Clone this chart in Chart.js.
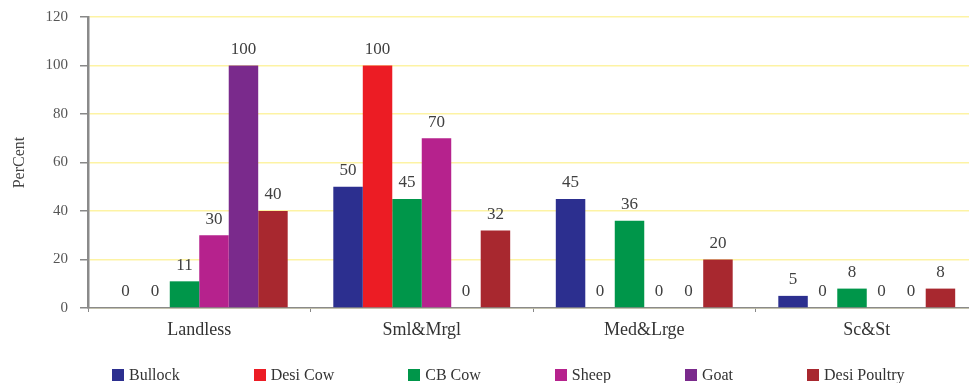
<!DOCTYPE html>
<html>
<head>
<meta charset="utf-8">
<script src="https://cdn.jsdelivr.net/npm/chart.js@4/dist/chart.umd.min.js"></script>
<style>
  html, body { margin: 0; padding: 0; background: #ffffff; overflow: hidden; }
  #wrap { position: absolute; left: 0; top: 0; width: 1020px; height: 383px; }
  #legend {
    position: absolute; left: 112px; top: 366px;
    display: flex; gap: 74px; align-items: center;
    font-family: "Liberation Serif", "DejaVu Serif", serif;
    font-size: 16px; color: #333; white-space: nowrap;
  }
  #legend .item { display: flex; align-items: center; }
  #legend .box { width: 12px; height: 12px; margin-right: 5px; }
</style>
</head>
<body>
<div id="wrap"><canvas id="c" width="1020" height="383"></canvas></div>
<div id="legend"></div>
<script>
// Land-holding groups along the x axis
const categories = ['Landless', 'Sml&Mrgl', 'Med&Lrge', 'Sc&St'];

// Share of households (per cent) owning each kind of livestock
const bullock     = [0, 50, 45, 5];
const desiCow     = [0, 100, 0, 0];
const cbCow       = [11, 45, 36, 8];
const sheep       = [30, 70, 0, 0];
const goat        = [100, 0, 0, 0];
const desiPoultry = [40, 32, 20, 8];

const yTicks = [0, 20, 40, 60, 80, 100, 120];

const seriesNames = ['Bullock', 'Desi Cow', 'CB Cow', 'Sheep', 'Goat', 'Desi Poultry'];
const seriesValues = [bullock, desiCow, cbCow, sheep, goat, desiPoultry];
const seriesColors = ['#2c2f8f', '#ec1c24', '#00964a', '#b6228d', '#7a2a8c', '#a8282f'];

const SERIF = '"Liberation Serif", "DejaVu Serif", serif';

// Writes each bar's value just above its top, zeros included
const valueLabels = {
  id: 'valueLabels',
  afterDatasetsDraw(chart) {
    const ctx = chart.ctx;
    ctx.save();
    ctx.font = '17px ' + SERIF;
    ctx.fillStyle = '#404040';
    ctx.textAlign = 'center';
    ctx.textBaseline = 'middle';
    chart.data.datasets.forEach((ds, i) => {
      const meta = chart.getDatasetMeta(i);
      meta.data.forEach((bar, j) => {
        ctx.fillText(String(ds.data[j]), bar.x, bar.y - 16);
      });
    });
    ctx.restore();
  }
};

const chart = new Chart(document.getElementById('c'), {
  type: 'bar',
  data: {
    labels: categories,
    datasets: seriesNames.map((name, i) => ({
      label: name,
      data: seriesValues[i],
      backgroundColor: seriesColors[i],
      borderWidth: 0,
      barPercentage: 1.0,
      categoryPercentage: 0.795
    }))
  },
  options: {
    responsive: false,
    animation: false,
    layout: { padding: { left: 0, right: 42, top: 17, bottom: 0 } },
    plugins: {
      legend: { display: false },
      tooltip: { enabled: false }
    },
    scales: {
      x: {
        afterFit(scale) { scale.height = 75; },
        grid: {
          display: true,
          drawOnChartArea: false,
          offset: true,
          tickLength: 4,
          tickColor: '#888'
        },
        border: { color: '#8a8a8a', width: 1.5 },
        ticks: {
          font: { family: SERIF, size: 18 },
          color: '#333',
          padding: 7
        }
      },
      y: {
        min: 0,
        max: 120,
        afterBuildTicks(scale) {
          scale.ticks = yTicks.map(v => ({ value: v }));
        },
        afterFit(scale) {
          scale.width = 88;
          scale.paddingTop = 0;
          scale.paddingBottom = 0;
        },
        grid: {
          color: '#fdf3a4',
          lineWidth: 1.5,
          tickLength: 8,
          tickColor: '#888'
        },
        border: { color: '#8a8a8a', width: 2.5 },
        ticks: {
          font: { family: SERIF, size: 15 },
          color: '#555',
          padding: 12
        },
        title: {
          display: true,
          text: 'PerCent',
          font: { family: SERIF, size: 16 },
          color: '#444',
          padding: { top: 10, bottom: 0 }
        }
      }
    }
  },
  plugins: [valueLabels]
});

// Legend row below the chart, built from the chart's own datasets
const legendEl = document.getElementById('legend');
chart.data.datasets.forEach(ds => {
  const item = document.createElement('div');
  item.className = 'item';
  const box = document.createElement('span');
  box.className = 'box';
  box.style.background = ds.backgroundColor;
  const txt = document.createElement('span');
  txt.textContent = ds.label;
  item.appendChild(box);
  item.appendChild(txt);
  legendEl.appendChild(item);
});
</script>
</body>
</html>
